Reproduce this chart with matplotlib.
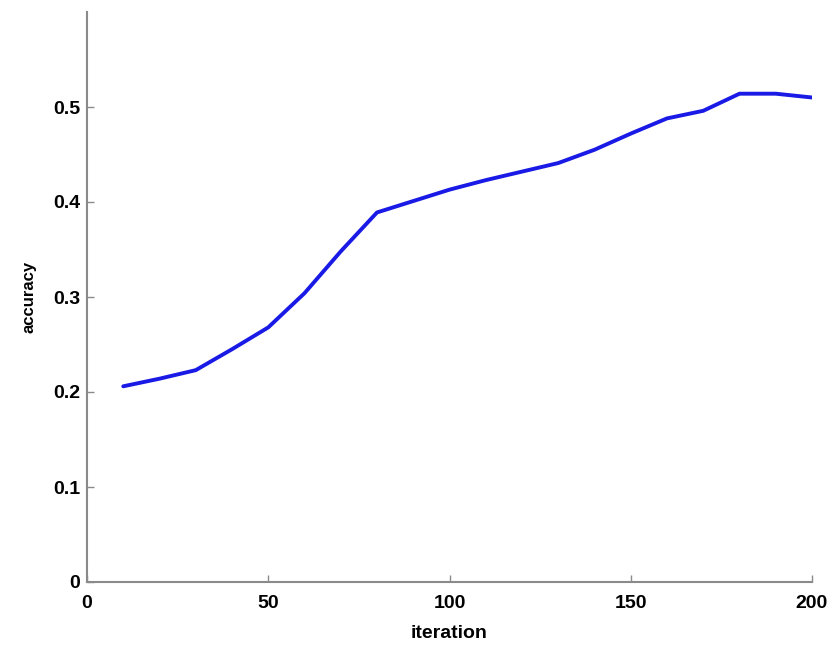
import matplotlib
matplotlib.use("Agg")
import matplotlib.pyplot as plt

# Accuracy measured every 10 iterations
iterations = [10, 20, 30, 40, 50, 60, 70, 80, 90, 100,
              110, 120, 130, 140, 150, 160, 170, 180, 190, 200]
accuracy = [0.206, 0.214, 0.223, 0.245, 0.268, 0.304, 0.348, 0.389, 0.401, 0.413,
            0.423, 0.432, 0.441, 0.455, 0.472, 0.488, 0.496, 0.514, 0.514, 0.510]

x_ticks = [0, 50, 100, 150, 200]
y_ticks = [0, 0.1, 0.2, 0.3, 0.4, 0.5]
y_tick_labels = ["0", "0.1", "0.2", "0.3", "0.4", "0.5"]

plt.rcParams['font.family'] = ['Liberation Sans', 'DejaVu Sans']

fig = plt.figure(figsize=(8.34, 6.52), dpi=100)
ax = fig.add_axes([87 / 834, 70 / 652, (812 - 87) / 834, (582 - 12) / 652])

ax.plot(iterations, accuracy, color='#1a1ae6', linewidth=2.8,
        solid_capstyle='round', solid_joinstyle='round')

ax.set_xlim(0, 200)
ax.set_ylim(0, 0.6)
ax.set_xticks(x_ticks)
ax.set_yticks(y_ticks)
ax.set_yticklabels(y_tick_labels)

for side in ('top', 'right'):
    ax.spines[side].set_visible(False)
for side in ('left', 'bottom'):
    ax.spines[side].set_color('#8a8a8a')
    ax.spines[side].set_linewidth(1.5)

ax.tick_params(direction='in', length=5, width=1, color='#8a8a8a', labelsize=14)
ax.tick_params(axis='y', pad=5)
ax.tick_params(axis='x', pad=9)
for lbl in ax.get_xticklabels() + ax.get_yticklabels():
    lbl.set_fontweight('bold')

ax.set_xlabel('iteration', fontsize=14, fontweight='bold', labelpad=10)
ax.set_ylabel('accuracy', fontsize=12, fontweight='bold', labelpad=12)

fig.savefig('out.png', dpi=100, facecolor='white')
